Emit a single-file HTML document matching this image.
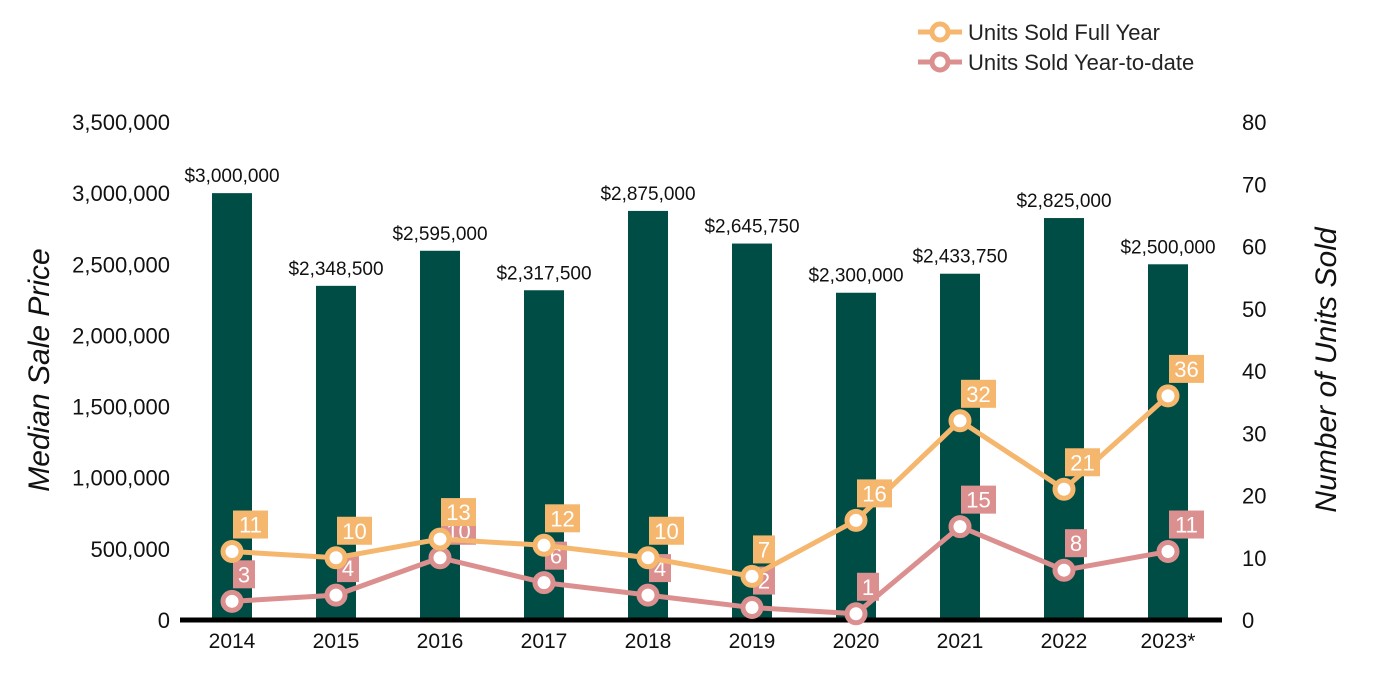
<!DOCTYPE html>
<html><head><meta charset="utf-8"><style>
body{margin:0;background:#fff}
svg{display:block;font-family:"Liberation Sans",Arial,sans-serif}
</style></head><body>
<svg id="chart" width="1400" height="700" xmlns="http://www.w3.org/2000/svg">
<g id="legend">
<g>
<line x1="918" y1="32" x2="962" y2="32" stroke="#f5b66e" stroke-width="5"/>
<circle cx="940" cy="32" r="8" fill="#fff" stroke="#f5b66e" stroke-width="5"/>
<text x="968" y="40" font-size="22" fill="#222">Units Sold Full Year</text></g>
<g>
<line x1="918" y1="62" x2="962" y2="62" stroke="#dc8f8f" stroke-width="5"/>
<circle cx="940" cy="62" r="8" fill="#fff" stroke="#dc8f8f" stroke-width="5"/>
<text x="968" y="70" font-size="22" fill="#222">Units Sold Year-to-date</text></g>
</g>
<text transform="translate(49,370) rotate(-90)" text-anchor="middle" font-size="30" font-style="italic" fill="#111">Median Sale Price</text>
<text transform="translate(1336,370) rotate(-90)" text-anchor="middle" font-size="30" font-style="italic" fill="#111">Number of Units Sold</text>
<g id="g"></g>
</svg>
<script>
const categories=["2014","2015","2016","2017","2018","2019","2020","2021","2022","2023*"];
const prices=[3000000,2348500,2595000,2317500,2875000,2645750,2300000,2433750,2825000,2500000];
const priceLabels=["$3,000,000","$2,348,500","$2,595,000","$2,317,500","$2,875,000","$2,645,750","$2,300,000","$2,433,750","$2,825,000","$2,500,000"];
const unitsFull=[11,10,13,12,10,7,16,32,21,36];
const unitsYTD=[3,4,10,6,4,2,1,15,8,11];
const leftTicks=[0,500000,1000000,1500000,2000000,2500000,3000000,3500000];
const rightTicks=[0,10,20,30,40,50,60,70,80];
const NS="http://www.w3.org/2000/svg",g=document.getElementById('g');
const y0=620,y1=122;
const yL=v=>y0-(v/3500000)*(y0-y1);
const yR=v=>y0-(v/80)*(y0-y1);
const xC=i=>232+i*104;
function mk(t,a,p){const e=document.createElementNS(NS,t);for(const k in a)e.setAttribute(k,a[k]);(p||g).appendChild(e);return e;}
leftTicks.forEach(v=>{const t=mk('text',{x:170,y:yL(v)+8,'text-anchor':'end','font-size':22,fill:'#111'});t.textContent=v.toLocaleString('en-US');

});
rightTicks.forEach(v=>{const t=mk('text',{x:1242,y:yR(v)+8,'font-size':22,fill:'#111'});t.textContent=v;

});
categories.forEach((c,i)=>{
const b=mk('rect',{x:xC(i)-20,y:yL(prices[i]),width:40,height:y0-yL(prices[i]),fill:'#004d45'});


const l=mk('text',{x:xC(i),y:yL(prices[i])-11,'text-anchor':'middle','font-size':19,fill:'#111'});l.textContent=priceLabels[i];


const t=mk('text',{x:xC(i),y:648,'text-anchor':'middle','font-size':21,fill:'#111'});t.textContent=c;

});
const ax=mk('line',{x1:180,y1:y0,x2:1222,y2:y0,stroke:'#000','stroke-width':5});


function series(vals,color,name){
const pl=mk('polyline',{points:vals.map((v,i)=>xC(i)+','+yR(v)).join(' '),fill:'none',stroke:color,'stroke-width':5,'stroke-linejoin':'round'});


vals.forEach((v,i)=>{const c=mk('circle',{cx:xC(i),cy:yR(v),r:9,fill:'#fff',stroke:color,'stroke-width':5});

});}
function labels(vals,color,name){
vals.forEach((v,i)=>{const s=String(v);const w=s.length>1?35:22;const x=xC(i)+1,y=yR(v)-41;
const r=mk('rect',{x:x,y:y,width:w,height:28,fill:color});


const t=mk('text',{x:x+w/2,y:y+22,'text-anchor':'middle','font-size':22,fill:'#fff'});t.textContent=s;

});}
series(unitsYTD,'#dc8f8f','ytd');
labels(unitsYTD,'#dc8f8f','ytd');
series(unitsFull,'#f5b66e','full-year');
labels(unitsFull,'#f5b66e','full-year');
</script>
</body></html>
